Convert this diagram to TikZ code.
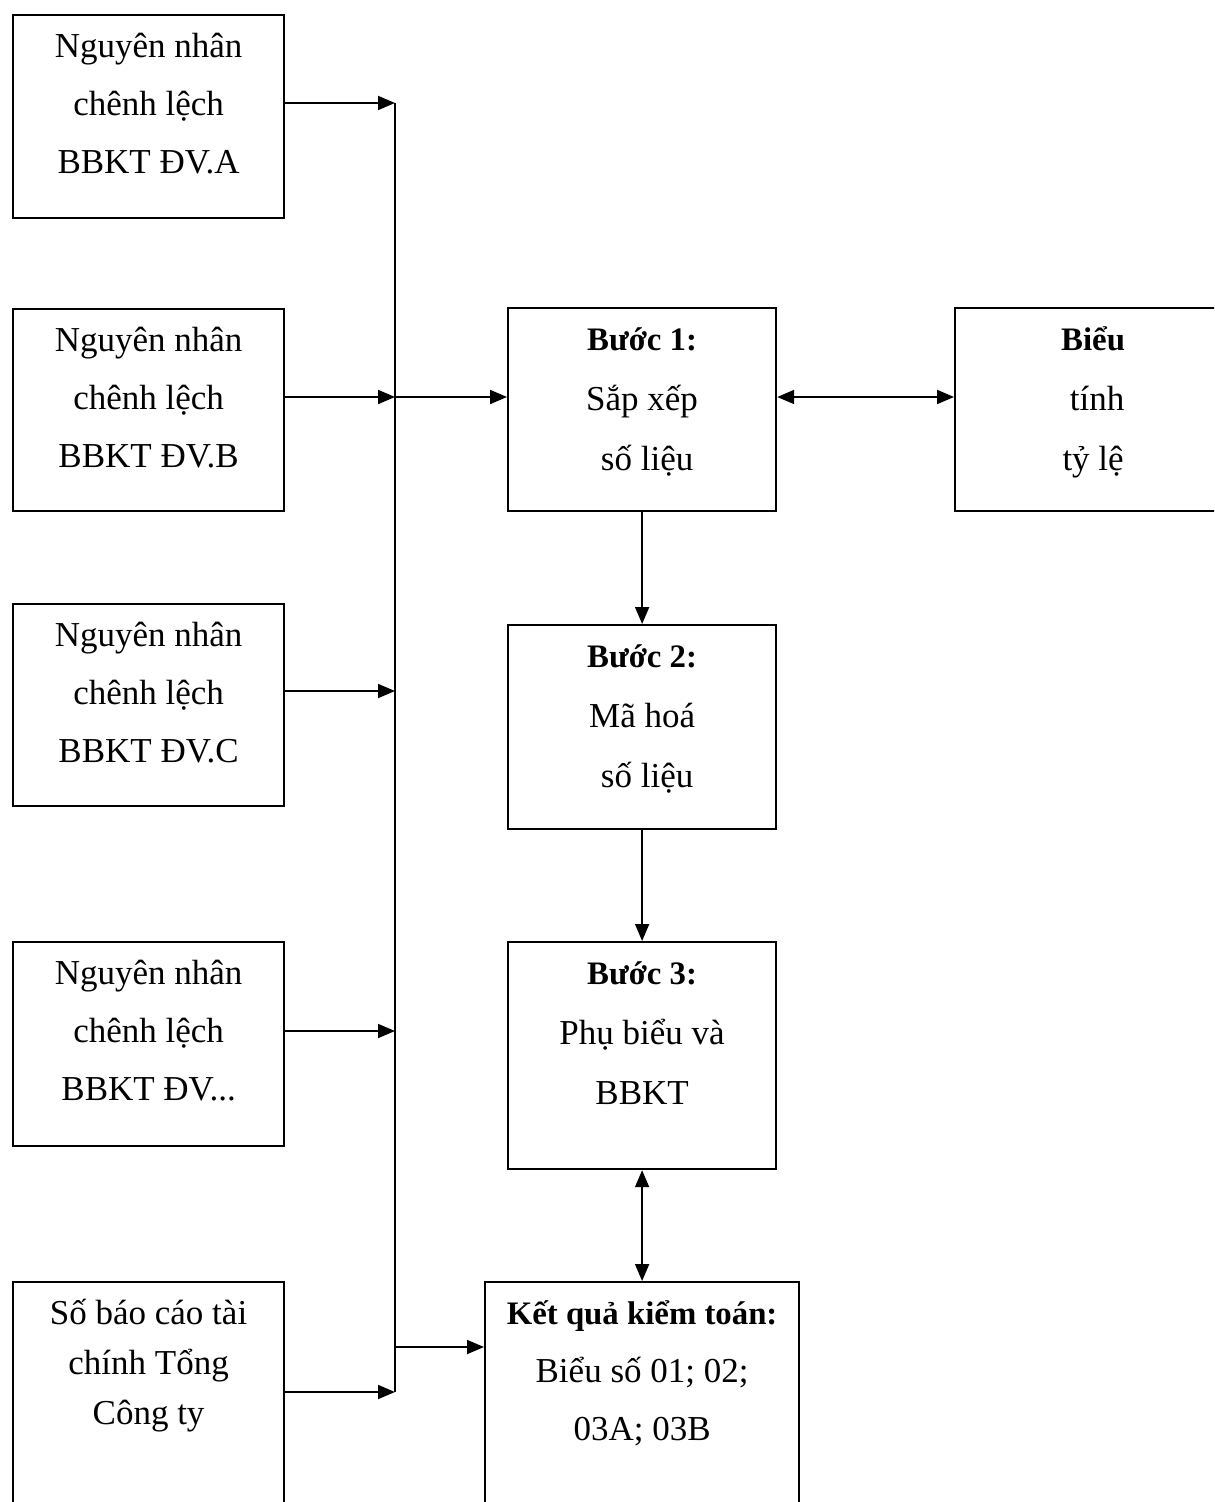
\documentclass[tikz,border=0pt]{standalone}
\usepackage{fontspec}
\setmainfont{Liberation Serif}
\usetikzlibrary{arrows.meta}
\newcommand{\bxt}[4]{\begin{minipage}[c][#2][t]{#1}\centering\fontsize{17.5}{#3}\selectfont\rule{0pt}{21pt}#4\end{minipage}}
\newcommand{\hd}[1]{{\fontsize{16.4}{20}\selectfont\bfseries #1}}
\begin{document}
\begin{tikzpicture}[x=1pt,y=-1pt,
  box/.style={draw, line width=1.1pt, inner sep=0pt, anchor=north west},
  arr/.style={line width=0.9pt, -{Triangle[length=8.5pt,width=7pt]}},
  darr/.style={line width=0.9pt, {Triangle[length=8.5pt,width=7pt]}-{Triangle[length=8.5pt,width=7pt]}}]
\useasboundingbox (0,0) rectangle (607,751);
\clip (0,0) rectangle (607,751);
% left column
\node[box] (ua) at (6,7)     {\bxt{135.5pt}{101.5pt}{29pt}{Nguyên nhân\\chênh lệch\\BBKT ĐV.A}};
\node[box] (ub) at (6,154)   {\bxt{135.5pt}{101pt}{29pt}{Nguyên nhân\\chênh lệch\\BBKT ĐV.B}};
\node[box] (uc) at (6,301.5) {\bxt{135.5pt}{101pt}{29pt}{Nguyên nhân\\chênh lệch\\BBKT ĐV.C}};
\node[box] (ud) at (6,470.5) {\bxt{135.5pt}{102pt}{29pt}{Nguyên nhân\\chênh lệch\\BBKT ĐV...}};
\node[box] (ue) at (6,640.5) {\bxt{135.5pt}{130pt}{25pt}{Số báo cáo tài\\chính Tổng\\Công ty}};
% middle column
\node[box] (s1) at (253.5,153.5) {\bxt{134pt}{101.5pt}{30pt}{\hd{Bước 1:}\\Sắp xếp\\\hspace*{5pt}số liệu}};
\node[box] (s2) at (253.5,312)   {\bxt{134pt}{102pt}{30pt}{\hd{Bước 2:}\\Mã hoá\\\hspace*{5pt}số liệu}};
\node[box] (s3) at (253.5,470.5) {\bxt{134pt}{113.5pt}{30pt}{\hd{Bước 3:}\\Phụ biểu và\\BBKT}};
\node[box] (kq) at (242,640.5)   {\bxt{157pt}{130pt}{29pt}{\hd{Kết quả kiểm toán:}\\Biểu số 01; 02;\\03A; 03B}};
% right
\node[box] (bt) at (477,153.5) {\bxt{138pt}{101.5pt}{30pt}{\hd{Biểu}\\\hspace*{4pt}tính\\tỷ lệ}};
% bus
\coordinate (ba) at (197.5,51.5);
\coordinate (bb) at (197.5,198.5);
\coordinate (bc) at (197.5,345.5);
\coordinate (bd) at (197.5,515.5);
\coordinate (be) at (197.5,696);
\coordinate (bk) at (197.5,673.5);
\draw[line width=0.9pt] (ba) -- (be);
\draw[arr] (ua.east |- ba) -- (ba);
\draw[arr] (ub.east |- bb) -- (bb);
\draw[arr] (uc.east |- bc) -- (bc);
\draw[arr] (ud.east |- bd) -- (bd);
\draw[arr] (ue.east |- be) -- (be);
\draw[arr] (bb) -- (s1.west |- bb);
\draw[arr] (bk) -- (kq.west |- bk);
\draw[darr] (s1.east |- bb) -- (bt.west |- bb);
\draw[arr] (s1.south) -- (s2.north);
\draw[arr] (s2.south) -- (s3.north);
\draw[darr] (s3.south) -- (kq.north);
\end{tikzpicture}
\end{document}
